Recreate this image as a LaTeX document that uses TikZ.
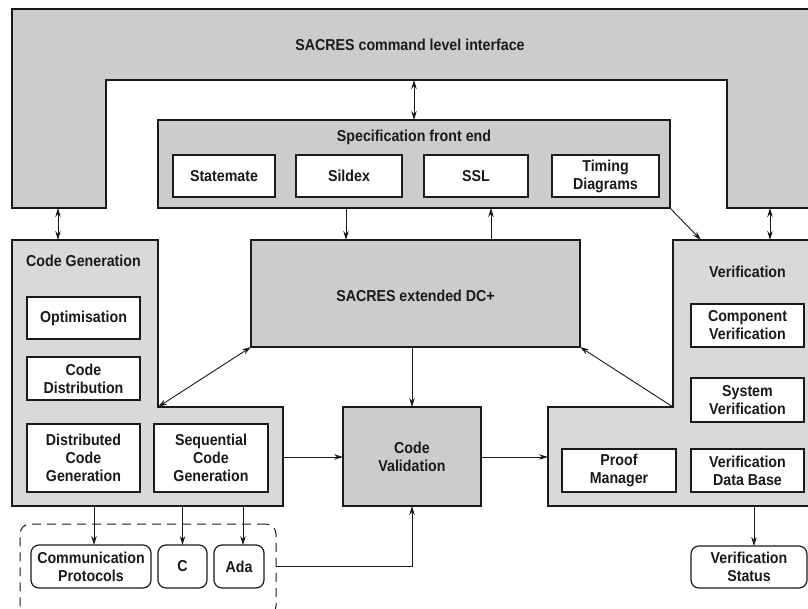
\documentclass[tikz,border=0pt]{standalone}
\usepackage{fontspec}
\setmainfont{Liberation Sans}[FakeStretch=0.9]
\usetikzlibrary{arrows.meta}
\definecolor{panel}{HTML}{CCCCCC}
\definecolor{lightpanel}{HTML}{D9D9D9}
\definecolor{ink}{HTML}{1A1A1A}

\begin{document}
\begin{tikzpicture}[x=1pt,y=-1pt,
  every node/.style={font=\fontsize{15.8}{18}\selectfont\bfseries, text=ink},
  frameline/.style={draw=ink, line width=1.2pt},
  panelbox/.style={frameline, fill=panel, inner sep=0pt, outer sep=0pt},
  subbox/.style={frameline, fill=white, inner sep=0pt, outer sep=0pt, align=center},
  roundbox/.style={subbox, rounded corners=8pt},
  grouping/.style={draw=ink, line width=1pt, dash pattern=on 9pt off 6pt, rounded corners=10pt, inner sep=0pt, outer sep=0pt},
  link/.style={draw=ink, line width=0.9pt, -{Stealth[length=9pt,width=5.5pt]}},
  dlink/.style={draw=ink, line width=0.9pt, {Stealth[length=9pt,width=5.5pt]}-{Stealth[length=9pt,width=5.5pt]}},
  label/.style={align=center, inner sep=0pt}
]
\useasboundingbox (0,0) rectangle (808,608);

% command level interface frame
\filldraw[frameline, fill=panel] (12,9) -- (815,9) -- (815,208) -- (727,208) -- (727,80)
  -- (106,80) -- (106,208) -- (12,208) -- cycle;
\node[label] (cmd) at (410,45) {SACRES command level interface};
\coordinate (cmdInner) at (414,80);
\coordinate (cmdLegL) at (58,208);
\coordinate (cmdLegR) at (770,208);

% specification front end
\node[panelbox, minimum width=512pt, minimum height=88pt] (spec) at (414,164) {};
\node[label] (spectitle) at (414,137) {Specification front end};
\node[subbox, minimum width=102pt, minimum height=42pt] (statemate) at (224,176) {Statemate};
\node[subbox, minimum width=106pt, minimum height=42pt] (sildex) at (349,176) {Sildex};
\node[subbox, minimum width=104pt, minimum height=42pt] (ssl) at (476,176) {SSL};
\node[subbox, minimum width=107pt, minimum height=42pt] (timing) at (605.5,176) {Timing\\Diagrams};

% extended DC+
\node[panelbox, minimum width=329pt, minimum height=107pt] (dc) at (415.5,293.5) {};
\node[label] (dctitle) at (415.5,296) {SACRES extended DC+};

% code generation
\filldraw[frameline, fill=lightpanel] (12,240) -- (158,240) -- (158,407) -- (283,407)
  -- (283,506) -- (12,506) -- cycle;
\node[label] (cgtitle) at (83.5,261) {Code Generation};
\coordinate (cgTop) at (58,240);
\coordinate (cgNotch) at (158,407);
\coordinate (cgEast) at (283,457);
\coordinate (cgOut1) at (94,506);
\coordinate (cgOut3) at (243,506);
\node[subbox, minimum width=113pt, minimum height=42pt] (optim) at (83.5,318) {Optimisation};
\node[subbox, minimum width=113pt, minimum height=43pt] (codedist) at (83.5,378.5) {Code\\Distribution};
\node[subbox, minimum width=113pt, minimum height=68pt] (distgen) at (83.5,458) {Distributed\\Code\\Generation};
\node[subbox, minimum width=114pt, minimum height=68pt] (seqgen) at (211,458) {Sequential\\Code\\Generation};

% code validation
\node[panelbox, minimum width=138pt, minimum height=99pt] (cv) at (412,456.5) {};
\node[label] (cvtitle) at (412,457) {Code\\Validation};

% verification
\filldraw[frameline, fill=lightpanel] (673,240) -- (815,240) -- (815,506) -- (548,506)
  -- (548,407) -- (673,407) -- cycle;
\node[label] (vftitle) at (747.5,272) {Verification};
\coordinate (vfTop) at (770,240);
\coordinate (vfTopA) at (701,240);
\coordinate (vfNotch) at (673,407);
\coordinate (vfWest) at (548,457);
\coordinate (vfOut) at (754,506);
\node[subbox, minimum width=113pt, minimum height=43pt] (compver) at (747.5,325.5) {Component\\Verification};
\node[subbox, minimum width=113pt, minimum height=44pt] (sysver) at (747.5,400) {System\\Verification};
\node[subbox, minimum width=114pt, minimum height=43pt] (proof) at (619,470.5) {Proof\\Manager};
\node[subbox, minimum width=113pt, minimum height=43pt] (vdb) at (747.5,470.5) {Verification\\Data Base};

% generated targets
\node[grouping, minimum width=256pt, minimum height=92pt] (targets) at (148,570) {};
\node[roundbox, minimum width=120pt, minimum height=43pt] (comm) at (91,566.5) {Communication\\Protocols};
\node[roundbox, minimum width=49pt, minimum height=43pt] (clang) at (182.5,566.5) {C};
\node[roundbox, minimum width=50pt, minimum height=43pt] (ada) at (239,566.5) {Ada};
\node[roundbox, minimum width=116pt, minimum height=42pt] (status) at (749,567) {Verification\\Status};

% connectors
\coordinate (colA) at (346,0);
\coordinate (colB) at (491,0);
\draw[dlink] (cmdInner) -- (spec.north);
\draw[dlink] (cmdLegL) -- (cgTop);
\draw[dlink] (cmdLegR) -- (vfTop);
\draw[link] (spec.south -| colA) -- (dc.north -| colA);
\draw[link] (dc.north -| colB) -- (spec.south -| colB);
\draw[link] (spec.south east) -- (vfTopA);
\draw[dlink] (cgNotch) -- (dc.south west);
\draw[link] (vfNotch) -- (dc.south east);
\draw[link] (cv.north |- dc.south) -- (cv.north);
\draw[link] (cgEast) -- (cv.west |- cgEast);
\draw[link] (cv.east |- vfWest) -- (vfWest);
\draw[link] (ada -| targets.east) -- (ada -| cv.south) -- (cv.south);
\draw[link] (cgOut1) -- (cgOut1 |- comm.north);
\draw[link] (clang.north |- cgOut1) -- (clang.north);
\draw[link] (cgOut3) -- (cgOut3 |- ada.north);
\draw[link] (vfOut) -- (vfOut |- status.north);
\end{tikzpicture}
\end{document}
